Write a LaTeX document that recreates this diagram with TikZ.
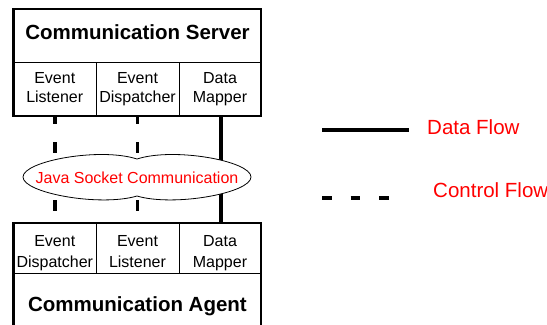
\documentclass[tikz,border=0pt]{standalone}
\usepackage{fontspec}
\setmainfont{Liberation Sans}
\begin{document}
\begin{tikzpicture}[x=1bp,y=-1bp,
  outerbox/.style={draw,line width=2.8bp},
  cellbox/.style={draw,line width=0.8bp,inner sep=0,minimum height=54bp},
  celltext/.style={font=\fontsize{16bp}{19bp}\selectfont,anchor=base,inner sep=0},
  titletext/.style={font=\fontsize{20.5bp}{24bp}\selectfont\bfseries,anchor=base,inner sep=0},
  legendtext/.style={font=\fontsize{20.5bp}{24bp}\selectfont,text=red,anchor=base west,inner sep=0},
  cloudtext/.style={font=\fontsize{16bp}{19bp}\selectfont,text=red,anchor=base,inner sep=0},
  dataflow/.style={line width=4bp},
  ctrlflow/.style={line width=3.6bp,dash pattern=on 11bp off 18bp,dash phase=3bp},
  legctrl/.style={line width=3.6bp,dash pattern=on 9.5bp off 19bp}]
\useasboundingbox (0,0) rectangle (547,324);
\clip (0,0) rectangle (547,324);
% server cells
\node[cellbox,minimum width=82.5bp] (sEL) at (54.75,89) {};
\node[cellbox,minimum width=83bp] (sED) at (137.5,89) {};
\node[cellbox,minimum width=82bp] (sDM) at (220,89) {};
% agent cells
\node[cellbox,minimum width=82.5bp,minimum height=50bp] (aED) at (54.75,248) {};
\node[cellbox,minimum width=83bp,minimum height=50bp] (aEL) at (137.5,248) {};
\node[cellbox,minimum width=82bp,minimum height=50bp] (aDM) at (220,248) {};
% connectors
\draw[ctrlflow] (sEL.south) -- (aED.north);
\draw[ctrlflow] (sED.south) -- (aEL.north);
\draw[dataflow] ([xshift=1bp]sDM.south) -- ([xshift=1bp]aDM.north);
% cloud
\draw[fill=white,line width=0.8bp] (23,177)
  .. controls (23,161) and (100,147) .. (137,159)
  .. controls (174,147) and (251,161) .. (251,177)
  .. controls (251,193) and (174,207) .. (137,196)
  .. controls (100,207) and (23,193) .. (23,177) -- cycle;
\node[cloudtext] (jsc) at (137,183) {Java Socket Communication};
% outer boxes
\draw[outerbox] (13.5,9) rectangle (261,116);
\draw[outerbox] (13.5,223) rectangle (261,340);
% titles
\node[titletext] (srv) at (137.5,39) {Communication Server};
\node[titletext] (agt) at (137.5,311) {Communication Agent};
% cell texts
\node[celltext] (t1a) at (54.75,83.3) {Event};
\node[celltext] (t1b) at (54.75,102.7) {Listener};
\node[celltext] (t2a) at (137.5,83.3) {Event};
\node[celltext] (t2b) at (137.5,102.7) {Dispatcher};
\node[celltext] (t3a) at (220,83.3) {Data};
\node[celltext] (t3b) at (220,102.7) {Mapper};
\node[celltext] (b1a) at (54.75,246.7) {Event};
\node[celltext] (b1b) at (54.75,267.5) {Dispatcher};
\node[celltext] (b2a) at (137.5,246.7) {Event};
\node[celltext] (b2b) at (137.5,267.5) {Listener};
\node[celltext] (b3a) at (220,246.7) {Data};
\node[celltext] (b3b) at (220,267.5) {Mapper};
% legend
\coordinate (dfA) at (322,130);
\coordinate (dfB) at (409,130);
\draw[dataflow] (dfA) -- (dfB);
\node[legendtext] (dfl) at (427,134) {Data Flow};
\coordinate (cfA) at (322,198);
\coordinate (cfB) at (389,198);
\draw[legctrl] (cfA) -- (cfB);
\node[legendtext] (cfl) at (433,197) {Control Flow};
\end{tikzpicture}
\end{document}
